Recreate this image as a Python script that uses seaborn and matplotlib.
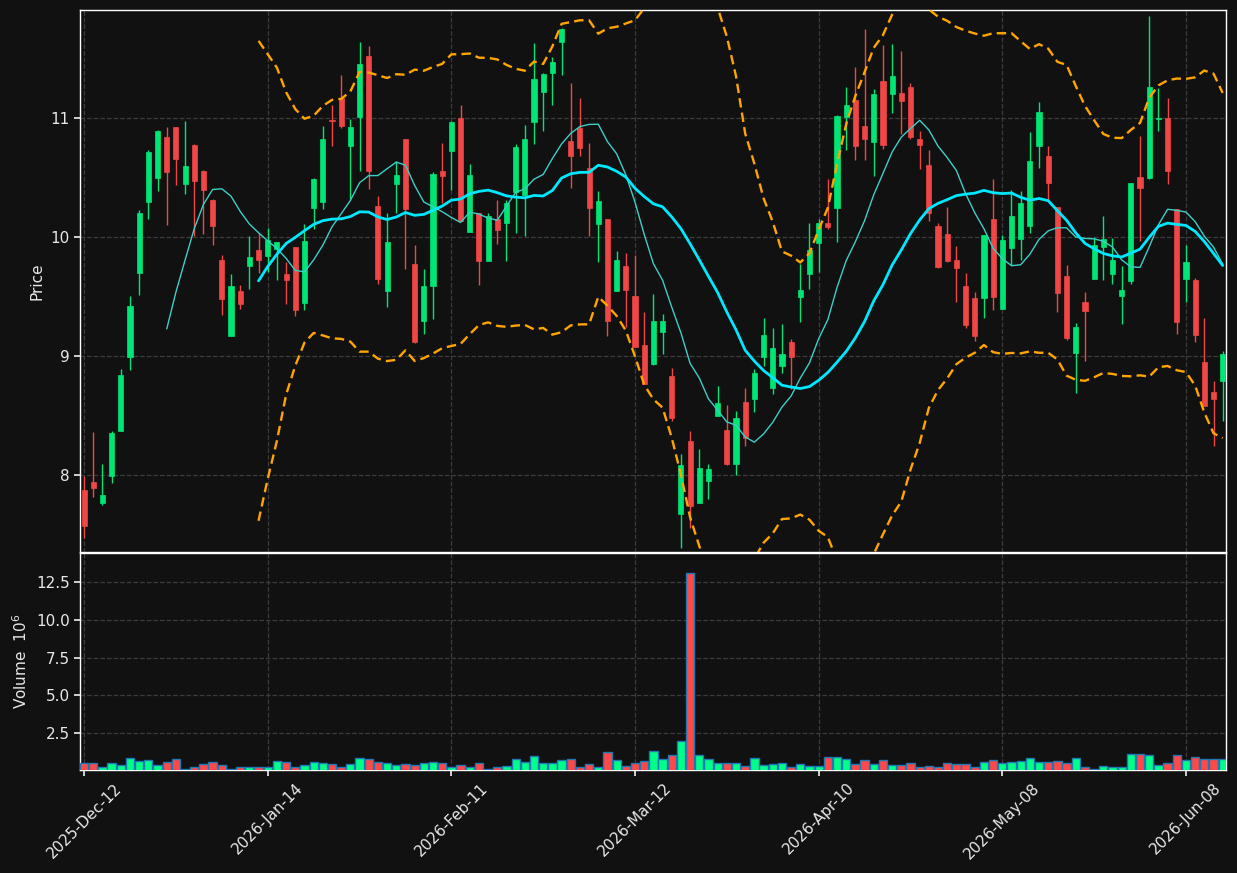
import numpy as np
import pandas as pd
import matplotlib
matplotlib.use("Agg")
import matplotlib.pyplot as plt
from matplotlib.ticker import MultipleLocator, FormatStrFormatter
import seaborn as sns

# ---------------- data ----------------
tick_labels = ['2025-Dec-12', '2026-Jan-14', '2026-Feb-11', '2026-Mar-12',
               '2026-Apr-10', '2026-May-08', '2026-Jun-08']

opens = [7.875, 7.939, 7.765, 7.99, 8.37, 8.994, 9.698, 10.297, 10.5, 10.843,
         10.927, 10.448, 10.776, 10.558, 10.314, 9.805, 9.166, 9.544, 9.756, 9.89,
         9.843, 9.901, 9.686, 9.916, 9.442, 10.244, 10.297, 10.988, 11.166, 10.762,
         11.006, 11.523, 10.259, 9.547, 10.448, 10.826, 9.77, 9.294, 9.59, 10.558,
         10.721, 11.0, 10.044, 10.2, 9.8, 10.148, 10.122, 10.375, 10.355, 10.971,
         11.218, 11.378, 11.645, 10.811, 10.919, 10.578, 10.113, 10.151, 9.547, 9.756,
         9.503, 9.09, 8.936, 9.198, 8.834, 7.672, 8.282, 7.765, 7.948, 8.491,
         8.378, 8.093, 8.61, 8.64, 8.994, 8.733, 8.913, 9.116, 9.497, 9.686,
         9.948, 10.122, 10.244, 11.006, 11.154, 10.933, 10.802, 11.317, 11.201, 11.209,
         11.259, 10.826, 10.608, 10.093, 10.026, 9.805, 9.587, 9.485, 9.488, 10.151,
         9.395, 9.91, 9.983, 10.093, 10.767, 10.683, 10.253, 9.672, 9.023, 9.451,
         9.648, 9.916, 9.686, 9.503, 9.628, 10.506, 10.497, 10.997, 11.0, 10.238,
         9.648, 9.642, 8.945, 8.698, 8.785]
highs = [7.99, 8.363, 8.09, 8.37, 8.892, 9.503, 10.224, 10.73, 10.904, 10.924,
         10.93, 10.977, 10.78, 10.56, 10.323, 9.846, 9.692, 9.599, 10.006, 10.032,
         10.078, 9.962, 9.794, 9.916, 10.113, 10.497, 10.933, 11.11, 11.363, 10.991,
         11.645, 11.61, 10.346, 10.2, 10.637, 10.826, 9.93, 9.73, 10.55, 10.79,
         10.98, 11.11, 10.613, 10.2, 10.2, 10.311, 10.311, 10.782, 10.942, 11.634,
         11.384, 11.517, 11.756, 11.297, 11.169, 10.79, 10.384, 10.151, 9.881, 9.869,
         9.846, 9.372, 9.517, 9.349, 8.898, 8.171, 8.369, 8.215, 8.09, 8.747,
         8.587, 8.538, 8.727, 8.892, 9.32, 9.235, 9.265, 9.14, 9.77, 10.122,
         10.151, 10.485, 11.03, 11.262, 11.427, 11.747, 11.247, 11.619, 11.625, 11.567,
         11.297, 10.892, 10.73, 10.122, 10.253, 9.922, 9.701, 9.541, 10.017, 10.485,
         10.02, 10.398, 10.384, 10.884, 11.137, 10.765, 10.253, 9.765, 9.276, 9.541,
         9.997, 10.18, 9.988, 9.756, 10.456, 10.849, 11.863, 11.253, 11.166, 10.238,
         9.93, 9.654, 9.323, 8.791, 9.043]
lows = [7.47, 7.81, 7.744, 7.927, 8.365, 8.884, 9.509, 10.151, 10.384, 10.099,
        10.442, 10.366, 10.012, 10.026, 9.93, 9.343, 9.166, 9.398, 9.567, 9.70,
        9.706, 9.642, 9.439, 9.334, 9.387, 10.064, 10.235, 10.767, 10.919, 10.317,
        10.558, 10.404, 9.605, 9.41, 10.2, 9.727, 9.105, 9.183, 9.314, 10.288,
        10.398, 10.137, 10.044, 9.599, 9.8, 9.939, 9.802, 10.035, 10.006, 10.782,
        10.892, 11.11, 11.363, 10.41, 10.68, 10.012, 9.794, 9.169, 9.547, 9.24,
        9.073, 8.762, 8.922, 9.017, 8.456, 7.38, 7.555, 7.765, 7.794, 8.491,
        8.084, 8.0, 8.238, 8.529, 8.916, 8.683, 8.855, 8.718, 9.285, 9.561,
        9.706, 10.064, 9.962, 10.73, 10.645, 10.645, 10.512, 10.738, 11.044, 10.863,
        10.826, 10.57, 10.137, 9.741, 9.788, 9.453, 9.235, 9.125, 9.323, 9.387,
        9.395, 9.765, 9.808, 10.032, 10.578, 10.311, 9.366, 9.137, 8.689, 8.959,
        9.648, 9.642, 9.605, 9.27, 9.605, 9.968, 10.485, 10.892, 10.445, 9.183,
        9.453, 9.119, 8.581, 8.238, 8.451]
closes = [7.57, 7.89, 7.83, 8.355, 8.843, 9.424, 10.203, 10.718, 10.892, 10.544,
          10.66, 10.599, 10.468, 10.398, 10.096, 9.48, 9.587, 9.436, 9.831, 9.808,
          9.977, 9.956, 9.64, 9.387, 9.965, 10.488, 10.826, 10.98, 10.936, 10.927,
          11.459, 10.558, 9.648, 9.962, 10.52, 10.235, 9.116, 9.59, 10.529, 10.517,
          10.971, 10.137, 10.52, 9.8, 10.177, 10.061, 10.288, 10.759, 10.826, 11.326,
          11.375, 11.474, 11.747, 10.686, 10.753, 10.244, 10.302, 9.294, 9.805, 9.555,
          9.073, 8.762, 9.291, 9.291, 8.48, 8.084, 7.738, 8.058, 8.047, 8.602,
          8.093, 8.48, 8.305, 8.855, 9.172, 9.064, 9.015, 8.994, 9.552, 9.887,
          10.122, 10.084, 11.015, 11.113, 10.767, 10.826, 11.206, 10.776, 11.358, 11.142,
          10.843, 10.776, 10.206, 9.75, 9.8, 9.741, 9.259, 9.166, 10.017, 9.497,
          9.974, 10.177, 10.288, 10.637, 11.049, 10.456, 9.526, 9.154, 9.247, 9.378,
          9.933, 9.983, 9.805, 9.552, 10.456, 10.413, 11.259, 11.003, 10.555, 9.285,
          9.794, 9.174, 8.581, 8.64, 9.017]
volumes_m = [0.476, 0.476, 0.21, 0.476, 0.34, 0.83, 0.61, 0.675, 0.34, 0.565,
             0.765, 0.14, 0.21, 0.41, 0.565, 0.34, 0.14, 0.21, 0.21, 0.21,
             0.21, 0.61, 0.565, 0.21, 0.34, 0.565, 0.476, 0.41, 0.21, 0.41,
             0.83, 0.765, 0.565, 0.476, 0.34, 0.41, 0.34, 0.476, 0.565, 0.476,
             0.21, 0.34, 0.21, 0.476, 0.14, 0.21, 0.276, 0.765, 0.565, 0.965,
             0.476, 0.476, 0.675, 0.765, 0.21, 0.41, 0.21, 1.23, 0.675, 0.276,
             0.476, 0.61, 1.3, 0.765, 1.03, 1.96, 13.14, 1.03, 0.765, 0.476,
             0.476, 0.476, 0.276, 0.83, 0.34, 0.41, 0.476, 0.21, 0.41, 0.276,
             0.276, 0.9, 0.9, 0.765, 0.41, 0.675, 0.41, 0.675, 0.34, 0.34,
             0.476, 0.21, 0.276, 0.21, 0.476, 0.41, 0.41, 0.21, 0.565, 0.675,
             0.476, 0.565, 0.61, 0.83, 0.565, 0.565, 0.61, 0.476, 0.83, 0.21,
             0.14, 0.276, 0.21, 0.21, 1.1, 1.1, 1.03, 0.34, 0.476, 1.03,
             0.675, 0.9, 0.765, 0.765, 0.765]

# ---------------- derived ----------------
df = pd.DataFrame({'open': opens, 'high': highs, 'low': lows,
                   'close': closes, 'volume': volumes_m})
df['idx'] = np.arange(len(df))
df['ma10'] = df['close'].rolling(10).mean()
df['ma20'] = df['close'].rolling(20).mean()
std20 = df['close'].rolling(20).std(ddof=0)
df['bb_up'] = df['ma20'] + 2 * std20
df['bb_lo'] = df['ma20'] - 2 * std20
up = df['close'] >= df['open']

# ---------------- style ----------------
BG = '#111111'
sns.set_theme(style='darkgrid')
plt.rcParams.update({
    'figure.facecolor': BG, 'axes.facecolor': BG, 'savefig.facecolor': BG,
    'axes.edgecolor': 'white', 'axes.linewidth': 1.0,
    'axes.labelcolor': '#e8e8e8', 'text.color': '#e8e8e8',
    'xtick.color': '#e8e8e8', 'ytick.color': '#e8e8e8',
    'xtick.bottom': True, 'ytick.left': True,
    'xtick.major.size': 4, 'ytick.major.size': 4,
    'xtick.labelsize': 11, 'ytick.labelsize': 11, 'axes.labelsize': 11,
    'grid.color': '#3c3c3c', 'grid.linestyle': '--', 'grid.linewidth': 0.9,
})
plt.rcParams['font.family'] = ['DejaVu Sans']

fig = plt.figure(figsize=(12.37, 8.73), dpi=100)
axp = fig.add_axes([0.0647, 0.3677, 0.9264, 0.6208])
axv = fig.add_axes([0.0647, 0.1180, 0.9264, 0.2486], sharex=axp)

C_UP, C_DN = '#00e676', '#f04646'
V_UP, V_DN = '#00ff88', '#ff4848'

# candles
cols = np.where(up, C_UP, C_DN)
axp.vlines(df['idx'], df['low'], df['high'], colors=cols, linewidth=1, zorder=2)
body_lo = np.minimum(df['open'], df['close'])
body_h = np.maximum(np.abs(df['close'] - df['open']), 0.008)
axp.bar(df['idx'], body_h, bottom=body_lo, width=0.56, color=cols,
        edgecolor=cols, linewidth=0.5, zorder=3)

# moving averages and bands
sns.lineplot(data=df, x='idx', y='ma10', ax=axp, color='#3ccfc6', linewidth=1.0, zorder=4)
sns.lineplot(data=df, x='idx', y='ma20', ax=axp, color='#00e8ff', linewidth=2.0, zorder=4)
for col in ('bb_up', 'bb_lo'):
    sns.lineplot(data=df, x='idx', y=col, ax=axp, color='#ffa500', linewidth=1.7,
                 dashes=False, zorder=4)
for ln in axp.get_lines()[2:]:
    ln.set_dashes((4, 2.2))

# volume
vcols = np.where(up, V_UP, V_DN)
axv.bar(df['idx'], df['volume'], width=0.9, color=vcols, edgecolor='#1f77b4',
        linewidth=1.0, zorder=3)

# axes
axp.set_xlim(-0.44, 124.36)
axp.set_ylim(7.35, 11.91)
axv.set_ylim(0.3 * df['volume'].min(), 1.1 * df['volume'].max())
axp.set_ylabel('Price')
axp.set_xlabel('')
axv.set_ylabel('Volume  $10^{6}$')
axv.set_xlabel('')
axp.yaxis.set_major_locator(MultipleLocator(1))
axv.yaxis.set_major_locator(MultipleLocator(2.5))
axv.yaxis.set_major_formatter(FormatStrFormatter('%.1f'))
tick_pos = np.arange(0, len(df), 20)[:len(tick_labels)]
axv.set_xticks(tick_pos)
axv.set_xticklabels(tick_labels, rotation=45, ha='center')
plt.setp(axp.get_xticklabels(), visible=False)
axp.tick_params(axis='x', length=0)
for ax in (axp, axv):
    ax.grid(True, which='major', axis='both')
    ax.set_axisbelow(True)
    for s in ax.spines.values():
        s.set_color('white')
        s.set_linewidth(1.0)

fig.savefig('out.png', dpi=100, facecolor=BG)
